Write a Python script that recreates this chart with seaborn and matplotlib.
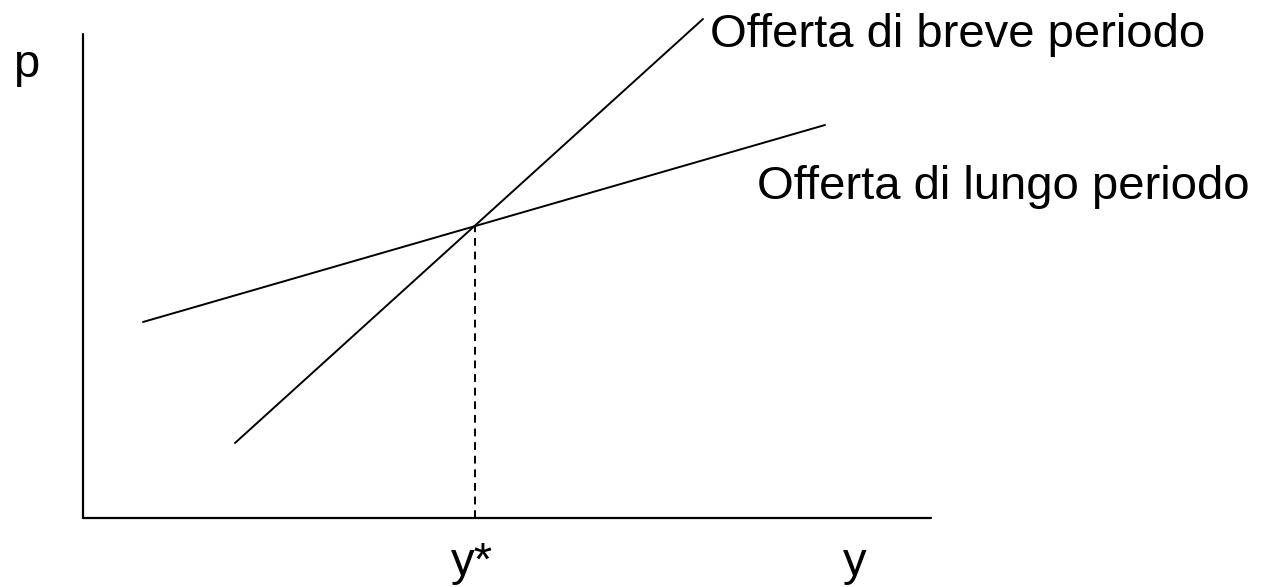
import numpy as np
import pandas as pd
import matplotlib
matplotlib.use("Agg")
import matplotlib.pyplot as plt
import seaborn as sns

# Dati (unita' arbitrarie: quantita' y, prezzo p)
breve_y = [1.52, 6.20]
breve_p = [0.75, 4.99]
lungo_y = [0.60, 7.42]
lungo_p = [1.96, 3.93]
y_star = 3.92
p_star = 2.93
asse_y_max = 8.48
asse_p_max = 4.84

sns.set_style("white")
plt.rcParams['font.family'] = ['Liberation Sans', 'DejaVu Sans']
plt.rcParams['text.color'] = 'black'

df = pd.concat([
    pd.DataFrame({'y': breve_y, 'p': breve_p, 'curva': 'breve'}),
    pd.DataFrame({'y': lungo_y, 'p': lungo_p, 'curva': 'lungo'}),
])

fig = plt.figure(figsize=(12.61, 5.87), dpi=100)
ax = fig.add_axes([0, 0, 1, 1])

# assi cartesiani
ax.plot([0, 0], [0, asse_p_max], color='black', lw=1.6)
ax.plot([0, asse_y_max], [0, 0], color='black', lw=1.6)

# curve di offerta
sns.lineplot(data=df, x='y', y='p', units='curva', estimator=None,
             color='black', lw=1.4, ax=ax, legend=False)

# linea tratteggiata verso y*
ax.plot([y_star, y_star], [0, p_star], color='black', lw=1.4, ls=(0, (4, 3)))

ax.set_xlim(-0.83, 11.78)
ax.set_ylim(-0.69, 5.18)
ax.axis('off')

fs = 34
ax.text(-0.70, 4.41, 'p', fontsize=fs, va='baseline', ha='left', color='black')
ax.text(y_star - 0.03, -0.57, 'y*', fontsize=fs, va='baseline', ha='center', color='black')
ax.text(7.72, -0.57, 'y', fontsize=fs, va='baseline', ha='center', color='black')
ax.text(6.27, 4.71, 'Offerta di breve periodo', fontsize=fs, va='baseline', ha='left', color='black')
ax.text(6.74, 3.19, 'Offerta di lungo periodo', fontsize=fs, va='baseline', ha='left', color='black')

fig.savefig('out.png', dpi=100)
